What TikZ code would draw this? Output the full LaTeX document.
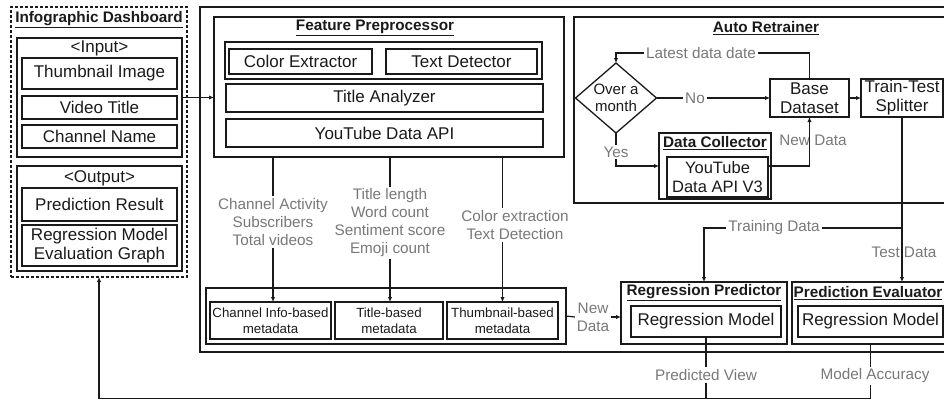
\documentclass[tikz,border=0pt]{standalone}
\usepackage{fontspec}
\setmainfont{Liberation Sans}
\usetikzlibrary{arrows.meta,shapes.geometric,calc}
\newcommand\fsz[2]{\fontsize{#1}{#2}\selectfont}
\definecolor{labgray}{HTML}{787878}
\definecolor{ink}{HTML}{1A1A1A}

\begin{document}
\begin{tikzpicture}[x=1pt,y=-1pt,
  every node/.style={inner sep=0pt, outer sep=0pt, text=ink},
  sz/.style 2 args={minimum width=#1, minimum height=#2},
  box/.style={draw=ink, line width=1.2pt, align=center, font=\fsz{17}{19}},
  smallbox/.style={draw=ink, line width=1.2pt, align=center, font=\fsz{13.3}{16}},
  grp/.style={draw=ink, line width=1.3pt},
  heavy/.style={draw=ink, line width=1.8pt},
  btitle/.style={font=\fsz{15.3}{17}\bfseries},
  plain/.style={font=\fsz{17}{19}},
  glab/.style={text=labgray, font=\fsz{15.3}{18}, align=center, inner sep=2pt},
  conn/.style={draw=ink, line width=1.2pt},
  arr/.style={conn, -{Latex[length=5pt,width=4.5pt]}}
]
\useasboundingbox (0,0) rectangle (944,400);
\clip (0,0) rectangle (944,400);

% ---------- Infographic dashboard ----------
\node[draw=ink, line width=1.2pt, dash pattern=on 3pt off 2pt, sz={176}{270}] (dash) at (99,142) {};
\node[btitle] (dashT) at (99,20) {\underline{Infographic Dashboard}};
\node[grp, sz={165}{119}] (ingrp) at (99.5,97.5) {};
\node[plain] (inT) at (99.5,48) {<Input>};
\node[box, sz={155}{31}] (thumb) at (99.5,73.5) {Thumbnail Image};
\node[box, sz={155}{23}] (vtitle) at (99.5,107.5) {Video Title};
\node[box, sz={155}{23}] (cname) at (99.5,136.5) {Channel Name};
\node[grp, sz={165}{105}] (outgrp) at (99.5,218.5) {};
\node[plain] (outT) at (99.5,178) {<Output>};
\node[box, sz={155}{33}] (predres) at (99.5,204.5) {Prediction Result};
\node[box, sz={155}{41}] (regeval) at (99.5,245.5) {Regression Model\\Evaluation Graph};

% ---------- main system frame ----------
\node[heavy, sz={780}{345}] (main) at (590,179.5) {};

% ---------- Feature preprocessor ----------
\node[grp, sz={350}{140}] (fp) at (389,87) {};
\node[btitle] (fpT) at (375,28) {\underline{Feature Preprocessor}};
\node[grp, sz={317}{37}] (cgrp) at (383.5,60.5) {};
\node[box, sz={143}{25}] (color) at (300.5,61.5) {Color Extractor};
\node[box, sz={151}{25}] (textdet) at (461.5,61.5) {Text Detector};
\node[box, sz={317}{28}] (titlean) at (384.5,98) {Title Analyzer};
\node[box, sz={317}{28}] (ytapi) at (384.5,133) {YouTube Data API};

% feature labels
\node[glab] (lblA) at (273,222) {Channel Activity\\Subscribers\\Total videos};
\node[glab] (lblB) at (390,223) {Title length\\Word count\\Sentiment score\\Emoji count};
\node[glab] (lblC) at (515,225) {Color extraction\\Text Detection};

% metadata
\node[grp, sz={360}{56}] (mgrp) at (386,316) {};
\node[smallbox, sz={121}{37}] (chmeta) at (270.5,320.5) {Channel Info-based\\metadata};
\node[smallbox, sz={108}{37}] (tmeta) at (389,320.5) {Title-based\\metadata};
\node[smallbox, sz={111}{37}] (thmeta) at (502.5,320.5) {Thumbnail-based\\metadata};

% ---------- Regression predictor / evaluator ----------
\node[grp, sz={166}{62}] (rp) at (704,313) {};
\node[btitle] (rpT) at (704,293) {\underline{Regression Predictor}};
\node[box, sz={150}{31}] (rm1) at (706,321.5) {Regression Model};
\node[grp, sz={160}{62}] (pe) at (872,313) {};
\node[btitle] (peT) at (868,293) {\underline{Prediction Evaluator}};
\node[box, sz={145}{31}] (rm2) at (870.5,321.5) {Regression Model};

\node[glab] (nd2) at (593,317) {New\\Data};
\node[glab] (pv) at (706,375) {Predicted View};
\node[glab] (ma) at (875,376) {Model Accuracy};

% ---------- Auto retrainer ----------
\node[heavy, line width=1.5pt, sz={386}{186}] (ar) at (767,110) {};
\node[btitle] (arT) at (766,28) {\underline{Auto Retrainer}};
\node[draw=ink, line width=1.3pt, shape=diamond, aspect=1.157, sz={81}{70}, align=center, font=\fsz{15}{17}] (dia) at (616,98) {Over a\\month};
\node[box, sz={79}{38}] (bd) at (809.5,98) {Base\\Dataset};
\node[box, sz={82}{38}] (tts) at (902,98) {Train-Test\\Splitter};
\node[grp, line width=1.5pt, sz={112}{66}] (dc) at (715,166) {};
\node[btitle] (dcT) at (715,143) {\underline{Data Collector}};
\node[box, font=\fsz{16.5}{19}, sz={101}{40}] (dcapi) at (717.5,177) {YouTube\\Data API V3};

\node[glab] (ldd) at (701,53) {Latest data date};
\node[glab] (no) at (695,98) {No};
\node[glab] (yes) at (616,152) {Yes};
\node[glab, inner sep=0pt] (nd1) at (813,140) {New Data};
\node[glab] (trd) at (774,228) {Training Data};
\node[glab, inner sep=0pt] (tsd) at (904,252) {Test Data};
\coordinate (tdj) at (902,228);
\coordinate (bl) at (99,398.5);

% ---------- connectors ----------
\draw[arr] (ingrp.east) -- (ingrp.east -| fp.west);

\draw[conn] (fp.south -| lblA) -- (lblA.north);
\draw[arr] (lblA.south) -- (lblA.south |- chmeta.north);
\draw[conn] (fp.south -| lblB) -- (lblB.north);
\draw[arr] (lblB.south) -- (lblB.south |- tmeta.north);
\draw[conn] (fp.south -| thmeta) -- (thmeta.north |- lblC.north);
\draw[arr] (thmeta.north |- lblC.south) -- (thmeta.north);

\draw[conn] (mgrp.east) -- (nd2.west);
\draw[arr] (nd2.east) -- (rp.west |- nd2.east);

\draw[conn] (rm1.south) -- (pv.north);
\draw[conn] (pv.south) -- (pv.south |- bl);
\draw[conn] (rm2.south |- pe.south) -- (rm2.south |- ma.north);
\draw[arr] (rm2.south |- ma.south) |- (bl) -- (dash.south);

\draw[conn] (bd.north) |- (ldd.east);
\draw[arr] (ldd.west) -| (dia.north);
\draw[conn] (dia.east) -- (no.west);
\draw[arr] (no.east) -- (bd.west);
\draw[conn] (dia.south) -- (yes.north);
\draw[arr] (yes.south) |- (dc.west);
\draw[arr] (dc.west -| dcapi.east) -| (bd.south);
\draw[arr] (bd.east) -- (tts.west);

\draw[conn] (tts.south) -- (tdj);
\draw[conn] (tdj) -- (trd.east);
\draw[arr] (trd.west) -| (rp.north);
\draw[arr] (tdj) -- (tdj |- pe.north);
\end{tikzpicture}
\end{document}
